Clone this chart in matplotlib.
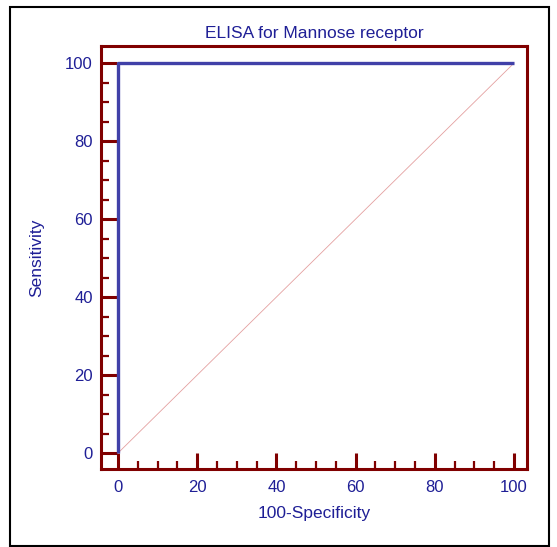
import numpy as np
import matplotlib.pyplot as plt
from matplotlib.patches import Rectangle
from matplotlib.ticker import MultipleLocator

# ROC curve points (100-Specificity, Sensitivity)
fpr = [0, 0, 100]
tpr = [0, 100, 100]
diag_x = [0, 100]
diag_y = [0, 100]
major_ticks = [0, 20, 40, 60, 80, 100]

TEXT = '#1f1f96'
AXCOL = '#800000'
LINE = '#4040a8'

plt.rcParams['font.family'] = ['Liberation Sans', 'DejaVu Sans']

fig = plt.figure(figsize=(5.57, 5.47), dpi=100)
fig.patches.append(Rectangle((10/557, 1 - 546/547), 539/557, 539/547,
                             transform=fig.transFigure, fill=False,
                             edgecolor='black', linewidth=1.5))

ax = fig.add_axes([101/557, 1 - 469/547, 426/557, 423/547])
ax.plot(diag_x, diag_y, color='#e4a0a0', linewidth=0.6)
ax.plot(fpr, tpr, color=LINE, linewidth=2.4, solid_capstyle='butt')

ax.set_xlim(-4.3, 103.3)
ax.set_ylim(-4.1, 104.4)
ax.set_xticks(major_ticks)
ax.set_yticks(major_ticks)
ax.xaxis.set_minor_locator(MultipleLocator(5))
ax.yaxis.set_minor_locator(MultipleLocator(5))

for s in ax.spines.values():
    s.set_color(AXCOL)
    s.set_linewidth(2.2)

ax.tick_params(which='major', direction='in', length=11.5, width=2.2,
               color=AXCOL, labelcolor=TEXT, labelsize=12, pad=6)
ax.tick_params(which='minor', direction='in', length=6, width=1.6,
               color=AXCOL)
ax.tick_params(axis='x', which='major', pad=8)

ax.set_title('ELISA for Mannose receptor', color=TEXT, fontsize=12.5, pad=6)
ax.set_xlabel('100-Specificity', color=TEXT, fontsize=12.5, labelpad=8)
ax.set_ylabel('Sensitivity', color=TEXT, fontsize=12.5, labelpad=15)

fig.savefig('out.png', dpi=100)
